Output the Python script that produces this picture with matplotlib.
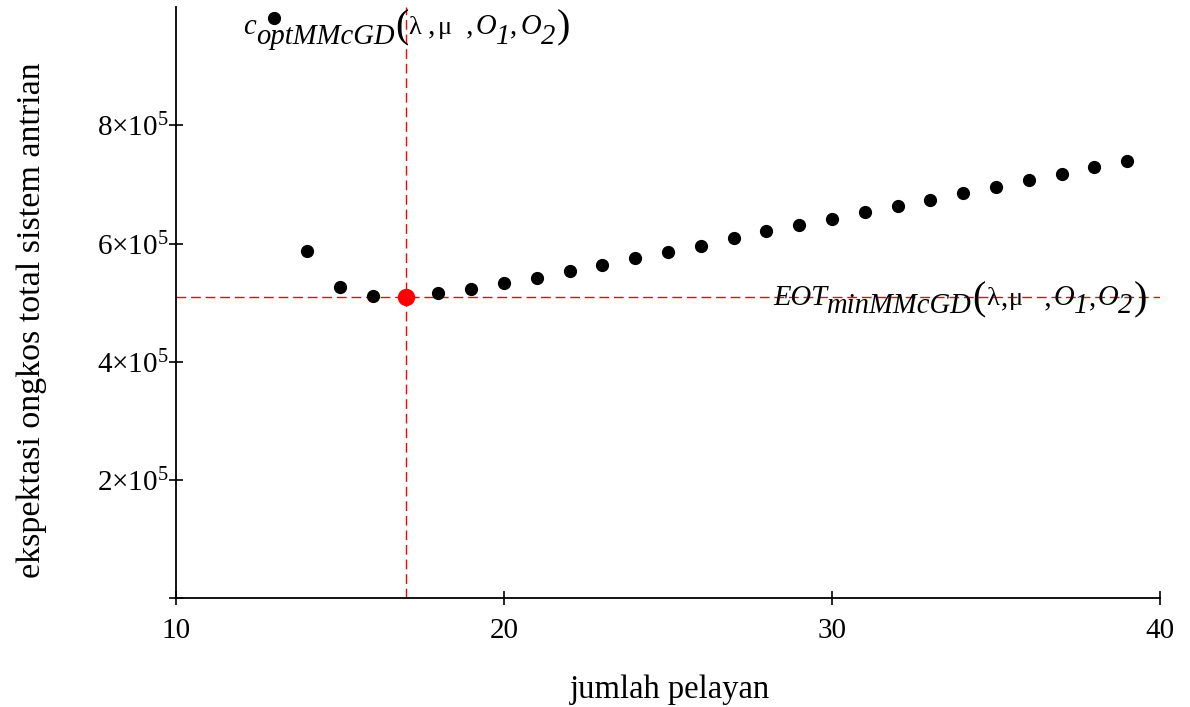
import numpy as np
import matplotlib
matplotlib.use("Agg")
import matplotlib.pyplot as plt
from matplotlib.ticker import FixedLocator, FixedFormatter

# jumlah pelayan vs ekspektasi ongkos total
c_values = [13, 14, 15, 16, 17, 18, 19, 20, 21, 22, 23, 24, 25, 26,
            27, 28, 29, 30, 31, 32, 33, 34, 35, 36, 37, 38, 39]
eot_values = [982300, 587700, 525800, 510800, 509600, 515600, 522900, 533600,
              542000, 553300, 563500, 574800, 585000, 595600, 609600, 621000,
              630600, 641800, 652600, 663200, 674500, 685700, 695900, 707200,
              718500, 728700, 739800]
c_opt = 17
eot_min = 509600

x_ticks = [10, 20, 30, 40]
y_ticks = [0, 200000, 400000, 600000, 800000]
y_tick_labels = ["", r"$2{\times}10^5$", r"$4{\times}10^5$",
                 r"$6{\times}10^5$", r"$8{\times}10^5$"]

plt.rcParams["font.family"] = "Liberation Serif"
plt.rcParams["mathtext.fontset"] = "custom"
plt.rcParams["mathtext.rm"] = "Liberation Serif"
plt.rcParams["mathtext.it"] = "Liberation Serif:italic"
plt.rcParams["mathtext.bf"] = "Liberation Serif:bold"

fig = plt.figure(figsize=(11.9, 7.07), dpi=100)
ax = fig.add_axes([0.1479, 0.1537, 0.8269, 0.8363])

ax.axvline(c_opt, color="red", lw=1, ls=(0, (7, 3.5)), zorder=1)
ax.axhline(eot_min, color="red", lw=1, ls=(0, (7, 3.5)), zorder=1)

ax.plot(c_values, eot_values, "o", color="black", ms=8.5, zorder=3)
ax.plot([c_opt], [eot_min], "o", color="red", ms=11.5, zorder=4)

ax.set_xlim(10, 40)
ax.set_ylim(0, 1000000)

ax.spines["top"].set_visible(False)
ax.spines["right"].set_visible(False)
ax.spines["left"].set_linewidth(1.3)
ax.spines["bottom"].set_linewidth(1.3)

ax.xaxis.set_major_locator(FixedLocator(x_ticks))
ax.yaxis.set_major_locator(FixedLocator(y_ticks))
ax.yaxis.set_major_formatter(FixedFormatter(y_tick_labels))
ax.tick_params(axis="both", direction="inout", length=10, width=1.2, labelsize=21)
ax.tick_params(axis="x", pad=9)
ax.tick_params(axis="y", pad=0)

ax.set_xlabel("jumlah pelayan", fontsize=23.5)
ax.set_ylabel("ekspektasi ongkos total sistem antrian", fontsize=24.5)
ax.xaxis.set_label_coords(0.502, -0.128)
ax.yaxis.set_label_coords(-0.131, 0.471)

renderer = fig.canvas.get_renderer()


def formula(x, y, pieces):
    # pieces: (text, size, style, dy px, extra gap px after)
    dx = 0.0
    for txt, size, style, dy, gap in pieces:
        t = ax.annotate(txt, xy=(x, y), xycoords="data", xytext=(dx, dy),
                        textcoords="offset pixels", fontsize=size, fontstyle=style,
                        ha="left", va="baseline", zorder=5)
        dx += t.get_window_extent(renderer).width + gap


fs = 20.6
pf = 29
gf = 19
top_pieces = [("c", fs, "italic", 0, 0), ("optMMcGD", fs, "italic", -10, 1),
              ("(", pf, "normal", -4, 0), ("λ", gf, "normal", 0, 0),
              (" ,", fs, "normal", 0, 2), ("μ", gf, "normal", 0, 0),
              ("  ,", fs, "normal", 0, 2), ("O", fs, "italic", 0, 0),
              ("1", fs, "italic", -10, 0), (",", fs, "normal", 0, 3),
              ("O", fs, "italic", 0, 0), ("2", fs, "italic", -10, 1),
              (")", pf, "normal", -4, 0)]
eot_pieces = [("EOT", fs, "italic", 0, 0), ("minMMcGD", fs, "italic", -8, 1),
              ("(", pf, "normal", -4, 0), ("λ", gf, "normal", 0, 2),
              (",", fs, "normal", 0, 1), ("μ", gf, "normal", 0, 0),
              ("   ,", fs, "normal", 0, 2), ("O", fs, "italic", 0, 0),
              ("1", fs, "italic", -8, 0), (",", fs, "normal", 0, 2),
              ("O", fs, "italic", 0, 0), ("2", fs, "italic", -8, 1),
              (")", pf, "normal", -4, 0)]

formula(12.04, 955200, top_pieces)
formula(28.2, 495900, eot_pieces)

fig.savefig("out.png", dpi=100)
